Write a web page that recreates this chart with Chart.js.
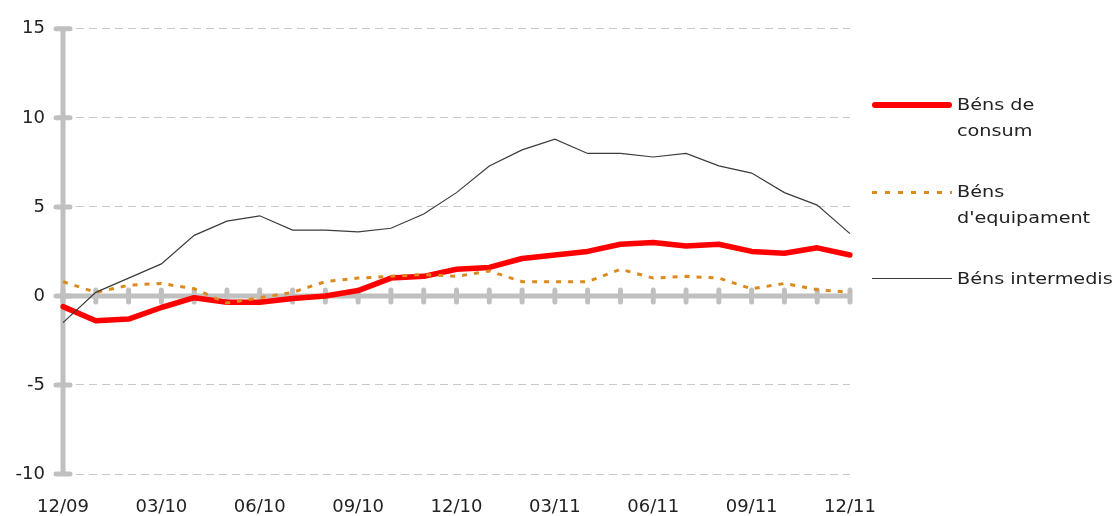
<!DOCTYPE html>
<html>
<head>
<meta charset="utf-8">
<script src="https://cdn.jsdelivr.net/npm/chart.js@4/dist/chart.umd.min.js"></script>
<style>
  html, body { margin: 0; padding: 0; background: #fff; }
  #wrap { position: relative; width: 1119px; height: 516px; }
  #legend { position: absolute; left: 872px; top: 0; font-family: 'DejaVu Sans', Verdana, sans-serif; font-size: 16px; line-height: 26px; color: #222; }
  .item { position: absolute; left: 0; display: flex; align-items: flex-start; white-space: nowrap; }
  .sample { width: 80px; margin-right: 5px; }
  .txt { transform: scaleX(1.2); transform-origin: left top; }
</style>
</head>
<body>
<div id="wrap">
  <canvas id="chart" width="1119" height="516"></canvas>
  <div id="legend"></div>
</div>
<script>
// mesos 12/09 .. 12/11
const mesos = ["12/09","01/10","02/10","03/10","04/10","05/10","06/10","07/10","08/10","09/10","10/10","11/10",
               "12/10","01/11","02/11","03/11","04/11","05/11","06/11","07/11","08/11","09/11","10/11","11/11","12/11"];

const consum      = [-0.6, -1.4, -1.3, -0.65, -0.1, -0.35, -0.35, -0.15, 0.0, 0.3, 1.0, 1.1, 1.5, 1.6, 2.1, 2.3, 2.5, 2.9, 3.0, 2.8, 2.9, 2.5, 2.4, 2.7, 2.3];
const equipament  = [0.8, 0.2, 0.6, 0.7, 0.4, -0.4, -0.1, 0.2, 0.8, 1.0, 1.1, 1.2, 1.1, 1.4, 0.8, 0.8, 0.8, 1.5, 1.0, 1.1, 1.0, 0.4, 0.7, 0.35, 0.2];
const intermedis  = [-1.5, 0.2, 1.0, 1.8, 3.4, 4.2, 4.5, 3.7, 3.7, 3.6, 3.8, 4.6, 5.8, 7.3, 8.2, 8.8, 8.0, 8.0, 7.8, 8.0, 7.3, 6.9, 5.8, 5.1, 3.5];

const yTicks = [-10, -5, 0, 5, 10, 15];

const AXIS = "#c0c0c0";

// eixos gruixuts amb marques (l'eix X passa pel zero)
const eixos = {
  id: "eixos",
  beforeDatasetsDraw(chart) {
    const { ctx, chartArea: a, scales: { x, y } } = chart;
    ctx.save();
    ctx.strokeStyle = AXIS;
    ctx.lineWidth = 5;
    ctx.lineCap = "butt";
    ctx.beginPath();
    ctx.moveTo(a.left, y.getPixelForValue(15));
    ctx.lineTo(a.left, y.getPixelForValue(-10));
    const y0 = y.getPixelForValue(0);
    ctx.moveTo(a.left, y0);
    ctx.lineTo(a.right, y0);
    ctx.stroke();

    ctx.lineCap = "round";
    ctx.beginPath();
    yTicks.forEach(v => {
      const py = y.getPixelForValue(v);
      ctx.moveTo(a.left - 7, py);
      ctx.lineTo(a.left + 7, py);
    });
    mesos.forEach((m, i) => {
      const px = x.getPixelForValue(i);
      ctx.moveTo(px, y0 - 6);
      ctx.lineTo(px, y0 + 6);
    });
    ctx.stroke();
    ctx.restore();
  }
};

Chart.defaults.font.family = "'DejaVu Sans', Verdana, sans-serif";
Chart.defaults.color = "#222";

new Chart(document.getElementById("chart"), {
  type: "line",
  data: {
    labels: mesos,
    datasets: [
      { label: "Béns de consum", data: consum, borderColor: "#ff0000", borderWidth: 5.5,
        borderCapStyle: "round", borderJoinStyle: "round", pointRadius: 0, tension: 0, order: 2 },
      { label: "Béns d'equipament", data: equipament, borderColor: "#dc8a1e", borderWidth: 3,
        borderDash: [5, 7], pointRadius: 0, tension: 0, order: 1 },
      { label: "Béns intermedis", data: intermedis, borderColor: "#3c3c3c", borderWidth: 1.2,
        pointRadius: 0, tension: 0, order: 0 }
    ]
  },
  options: {
    responsive: false,
    animation: false,
    layout: { padding: { top: 9, right: 269, bottom: 0, left: 0 } },
    scales: {
      x: {
        offset: false,
        afterFit: s => { s.height = 42; },
        grid: { display: false },
        border: { display: false },
        ticks: {
          autoSkip: false, maxRotation: 0, padding: 15,
          font: { size: 18 },
          callback: (v, i) => i % 3 === 0 ? mesos[i] : ""
        }
      },
      y: {
        min: -10, max: 15,
        afterFit: s => { s.width = 63; },
        grid: {
          drawTicks: false,
          color: c => c.tick && c.tick.value === 0 ? "rgba(0,0,0,0)" : "#c8c8c8",
          lineWidth: 1
        },
        border: { display: false, dash: [8, 5] },
        ticks: { stepSize: 5, padding: 18, font: { size: 18 } }
      }
    },
    plugins: { legend: { display: false }, tooltip: { enabled: false } }
  },
  plugins: [eixos]
});

// llegenda
const llegenda = [
  { text: ["Béns de", "consum"], y: 105, style: "border-top: 6px solid #ff0000; border-radius: 3px;", h: 6 },
  { text: ["Béns", "d'equipament"], y: 192, style: "height:3px; background: repeating-linear-gradient(90deg, #dc8a1e 0 5px, transparent 5px 13px);", h: 3 },
  { text: ["Béns intermedis"], y: 279, style: "border-top: 1.5px solid #3c3c3c;", h: 1.5 }
];
const leg = document.getElementById("legend");
llegenda.forEach(it => {
  const d = document.createElement("div");
  d.className = "item";
  d.style.top = (it.y - 13) + "px";
  const s = document.createElement("div");
  s.className = "sample";
  s.style.cssText = it.style + "margin-top:" + (13 - it.h / 2) + "px;";
  const t = document.createElement("div");
  t.className = "txt";
  t.innerHTML = it.text.join("<br>");
  d.appendChild(s);
  d.appendChild(t);
  leg.appendChild(d);
});
</script>
</body>
</html>
